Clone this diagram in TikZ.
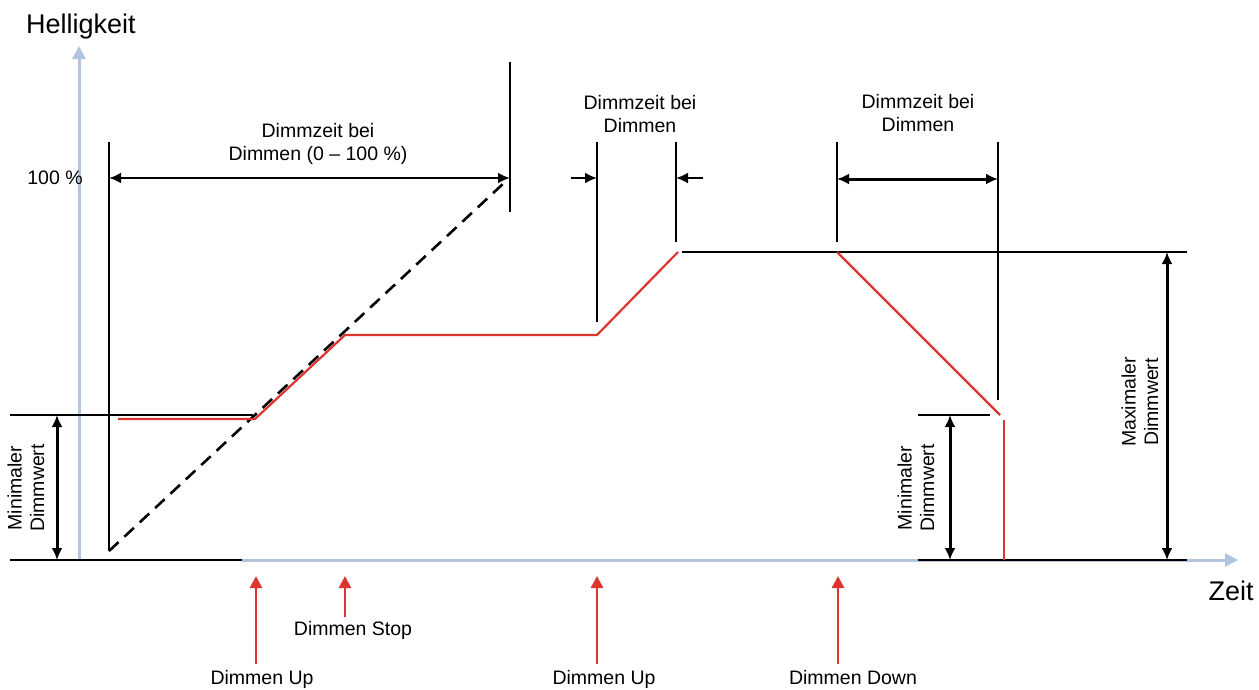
\documentclass[tikz,border=0pt]{standalone}
\usepackage{fontspec}
\setmainfont{Liberation Sans}
\usetikzlibrary{arrows.meta}
\definecolor{axisblue}{RGB}{176,196,222}
\definecolor{sigred}{RGB}{222,52,48}
\begin{document}
\begin{tikzpicture}[x=1pt,y=-1pt,
  blk/.style={line width=2.2pt,black},
  sig/.style={line width=2.2pt,sigred},
  axis/.style={line width=3pt,axisblue,-{Triangle[length=13pt,width=13pt]}},
  dimarrow/.style={line width=3pt,black,{Latex[length=12pt,width=11pt]}-{Latex[length=12pt,width=11pt]}},
  onearrow/.style={line width=2.2pt,black,-{Latex[length=12pt,width=11pt]}},
  evarrow/.style={line width=2.6pt,sigred,-{Triangle[length=12pt,width=12pt]}},
  lbl/.style={font=\fontsize{19.5}{22.5}\selectfont,align=center,inner sep=1pt},
  big/.style={font=\fontsize{27}{30}\selectfont,inner sep=0pt}]
\useasboundingbox (0,0) rectangle (1259,689);
% coordinates
\coordinate (o) at (79,560);
\coordinate (ytop) at (79,46);
\coordinate (xend) at (1238,560);
% axes
\draw[axis] (o) -- (ytop);
\draw[axis] (242,560) -- (xend);
\coordinate (bl0) at (10,560); \coordinate (bl1) at (242,560);
\draw[blk] (bl0) -- (bl1);
\coordinate (br0) at (918,560); \coordinate (br1) at (1187,560);
\draw[blk] (br0) -- (br1);
% first ramp
\coordinate (v1t) at (109,142); \coordinate (v1b) at (109,551);
\draw[blk] (v1t) -- (v1b);
\coordinate (d1e) at (505,182);
\draw[blk,line width=2.6pt,dash pattern=on 13pt off 8pt] (v1b) -- (d1e);
\coordinate (v2t) at (510,62); \coordinate (v2b) at (510,212);
\draw[blk] (v2t) -- (v2b);
\coordinate (a1l) at (109,178); \coordinate (a1r) at (510,178);
\draw[dimarrow,line width=2.6pt] (a1l) -- (a1r);
\node[lbl] (t1) at (318,144) {Dimmzeit bei\\Dimmen (0 – 100 \%)};
% minimal dimm value left
\coordinate (m0) at (10,415); \coordinate (m1) at (253,415);
\draw[blk] (m0) -- (m1);
\coordinate (ma) at (57,415); \coordinate (mb) at (57,560);
\draw[dimarrow] (ma) -- (mb);
\node[lbl,rotate=90,fill=white] (mt1) at (26,488) {Minimaler\\Dimmwert};
% red curve
\coordinate (r0) at (118,419); \coordinate (r1) at (255,419);
\coordinate (r2) at (345,335); \coordinate (r3) at (597,335);
\coordinate (r4) at (678,252);
\draw[sig,line join=round] (r0) -- (r1) -- (r2) -- (r3) -- (r4);
% second dimm time
\coordinate (v3t) at (597,142); \coordinate (v3b) at (597,322);
\draw[blk] (v3t) -- (v3b);
\coordinate (v4t) at (676,142); \coordinate (v4b) at (676,242);
\draw[blk] (v4t) -- (v4b);
\coordinate (s1) at (571,178); \coordinate (s1e) at (597,178);
\draw[onearrow] (s1) -- (s1e);
\coordinate (s2) at (703,178); \coordinate (s2e) at (676,178);
\draw[onearrow] (s2) -- (s2e);
\node[lbl] (t2) at (640,114) {Dimmzeit bei\\Dimmen};
% max level line
\coordinate (h0) at (682,252); \coordinate (h1) at (1187,252);
\draw[blk] (h0) -- (h1);
% third dimm time
\coordinate (v5t) at (837,142); \coordinate (v5b) at (837,242);
\draw[blk] (v5t) -- (v5b);
\coordinate (v6t) at (998,142); \coordinate (v6b) at (998,400);
\draw[blk] (v6t) -- (v6b);
\coordinate (a3l) at (837,179); \coordinate (a3r) at (998,179);
\draw[dimarrow] (a3l) -- (a3r);
\node[lbl] (t3) at (918,113) {Dimmzeit bei\\Dimmen};
% red down ramp
\coordinate (q0) at (837,252); \coordinate (q1) at (1000,415);
\draw[sig] (q0) -- (q1);
\coordinate (q2) at (1004,420); \coordinate (q3) at (1004,560);
\draw[sig] (q2) -- (q3);
% minimal dimm value right
\coordinate (n0) at (918,415); \coordinate (n1) at (990,415);
\draw[blk] (n0) -- (n1);
\coordinate (na) at (950,415); \coordinate (nb) at (950,560);
\draw[dimarrow] (na) -- (nb);
\node[lbl,rotate=90,fill=white] (mt2) at (916,488) {Minimaler\\Dimmwert};
% maximal dimm value
\coordinate (xa) at (1167,252); \coordinate (xb) at (1167,560);
\draw[dimarrow] (xa) -- (xb);
\node[lbl,rotate=90] (xt) at (1140,402) {Maximaler\\Dimmwert};
% axis labels
\node[big] (hl) at (81,27) {Helligkeit};
\node[big] (zl) at (1231,591) {Zeit};
\node[lbl] (p100) at (55,178) {100 \%};
% events
\node[lbl] (e1) at (262,679) {Dimmen Up};
\node[lbl] (e2) at (353,630) {Dimmen Stop};
\node[lbl] (e3) at (604,679) {Dimmen Up};
\node[lbl] (e4) at (853,678) {Dimmen Down};
\coordinate (e1a) at (256,664); \coordinate (e1b) at (256,576);
\coordinate (e2a) at (345,617); \coordinate (e2b) at (345,576);
\coordinate (e3a) at (597,664); \coordinate (e3b) at (597,576);
\coordinate (e4a) at (838,664); \coordinate (e4b) at (838,576);
\draw[evarrow] (e1a) -- (e1b);
\draw[evarrow] (e2a) -- (e2b);
\draw[evarrow] (e3a) -- (e3b);
\draw[evarrow] (e4a) -- (e4b);
\end{tikzpicture}
\end{document}
